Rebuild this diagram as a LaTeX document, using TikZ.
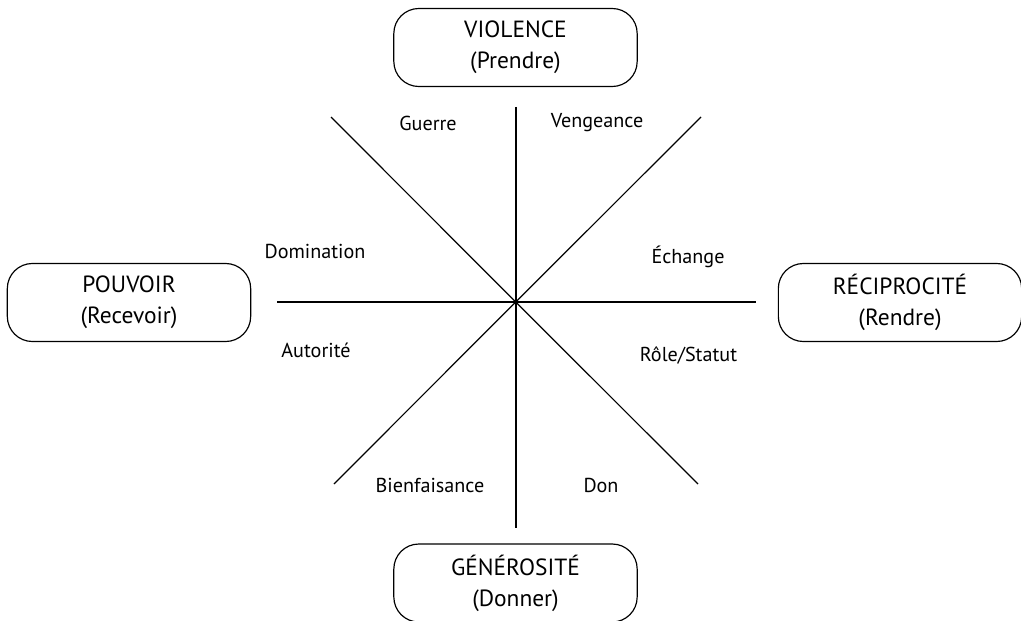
\documentclass[tikz,border=0pt]{standalone}
\usepackage{fontspec}
\setmainfont{PT Sans}
\usepackage{tikz}

\begin{document}
\begin{tikzpicture}[x=0.03cm,y=-0.03cm]
		\tikzstyle{pole}=[draw,line width=1pt,rounded corners=0.75cm,minimum width=7.3cm,minimum height=2.34cm,align=center,font=\fontsize{20}{26.5}\selectfont]
		\tikzstyle{term}=[font=\fontsize{17.2}{19}\selectfont]
		\tikzstyle{axis}=[line width=1.6pt]
		\tikzstyle{diag}=[line width=1pt]
		\useasboundingbox (0,0) rectangle (1021,620);
		% poles
		\node [pole] at (515.5,47.5) (violence) {VIOLENCE\\(Prendre)};
		\node [pole] at (129,302.5) (pouvoir) {POUVOIR\\(Recevoir)};
		\node [pole] at (900,302.5) (reciprocite) {RÉCIPROCITÉ\\(Rendre)};
		\node [pole] at (515.5,583) (generosite) {GÉNÉROSITÉ\\(Donner)};
		% axes
		\coordinate (o) at (515.7,302);
		\coordinate (n) at (515.7,107);
		\coordinate (s) at (515.7,528);
		\coordinate (w) at (277,302);
		\coordinate (e) at (756,302);
		\coordinate (nw) at (331,117);
		\coordinate (ne) at (701,117);
		\coordinate (sw) at (334,484);
		\coordinate (se) at (698,484);
		\draw [axis] (n) -- (s);
		\draw [axis] (w) -- (e);
		\draw [diag] (nw) -- (o) -- (se);
		\draw [diag] (ne) -- (o) -- (sw);
		% terms
		\node [term] at (428,123) (guerre) {Guerre};
		\node [term] at (597,123) (vengeance) {Vengeance};
		\node [term] at (315,251.5) (domination) {Domination};
		\node [term] at (688,257) (echange) {Échange};
		\node [term] at (316,350) (autorite) {Autorité};
		\node [term] at (688.5,356) (role) {Rôle/Statut};
		\node [term] at (430,485) (bienfaisance) {Bienfaisance};
		\node [term] at (601,485) (don) {Don};
	\end{tikzpicture}
\end{document}
